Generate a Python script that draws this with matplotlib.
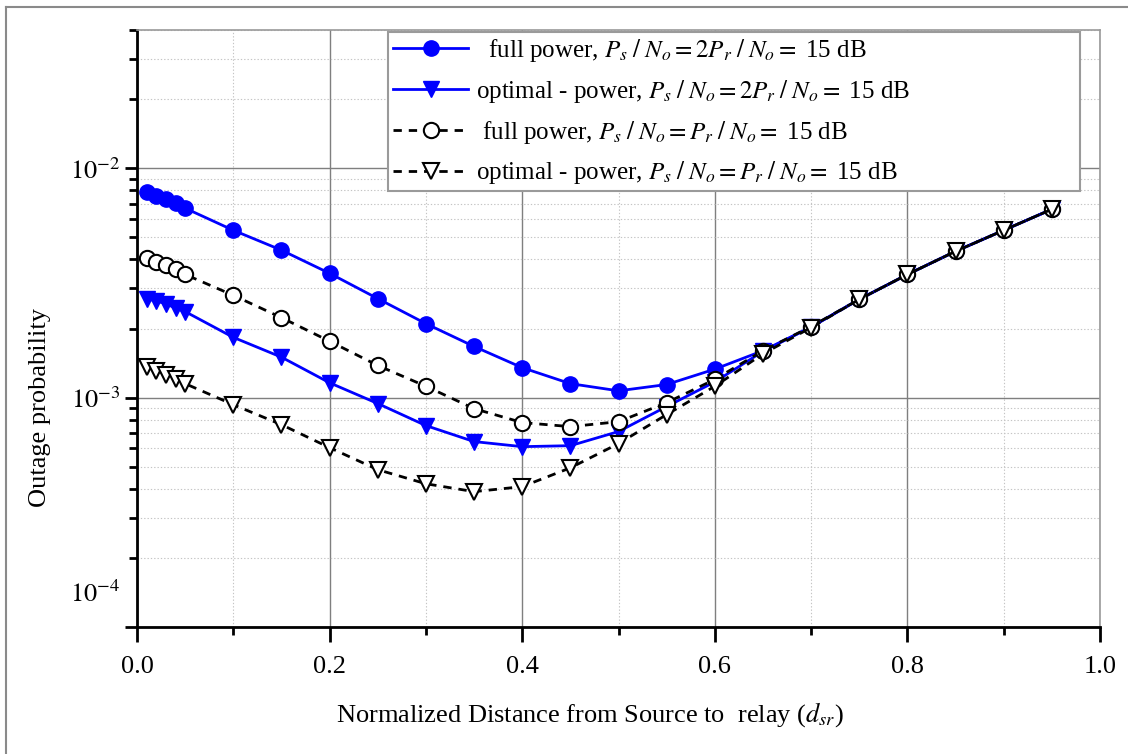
import matplotlib
matplotlib.use('Agg')

import matplotlib.pyplot as plt
import numpy as np
from matplotlib.lines import Line2D
from matplotlib.ticker import LogLocator, MultipleLocator, FixedLocator, FixedFormatter, NullFormatter

# ---------------- DATA ----------------
d_sr = [0.01, 0.02, 0.03, 0.04, 0.05, 0.10, 0.15, 0.20, 0.25, 0.30, 0.35, 0.40,
        0.45, 0.50, 0.55, 0.60, 0.65, 0.70, 0.75, 0.80, 0.85, 0.90, 0.95]

full_2x = [7.86e-3, 7.55e-3, 7.32e-3, 7.04e-3, 6.69e-3, 5.36e-3, 4.39e-3, 3.48e-3,
           2.70e-3, 2.10e-3, 1.67e-3, 1.35e-3, 1.15e-3, 1.07e-3, 1.14e-3, 1.33e-3,
           1.60e-3, 2.03e-3, 2.68e-3, 3.44e-3, 4.34e-3, 5.36e-3, 6.62e-3]

opt_2x = [2.70e-3, 2.63e-3, 2.57e-3, 2.45e-3, 2.37e-3, 1.83e-3, 1.50e-3, 1.16e-3,
          9.42e-4, 7.55e-4, 6.43e-4, 6.11e-4, 6.17e-4, 7.11e-4, 9.14e-4, 1.17e-3,
          1.59e-3, 2.03e-3, 2.68e-3, 3.44e-3, 4.34e-3, 5.36e-3, 6.62e-3]

full_eq = [4.05e-3, 3.89e-3, 3.77e-3, 3.62e-3, 3.44e-3, 2.79e-3, 2.23e-3, 1.76e-3,
           1.38e-3, 1.12e-3, 8.95e-4, 7.78e-4, 7.47e-4, 7.85e-4, 9.50e-4, 1.20e-3,
           1.60e-3, 2.04e-3, 2.68e-3, 3.44e-3, 4.34e-3, 5.36e-3, 6.62e-3]

opt_eq = [1.36e-3, 1.31e-3, 1.26e-3, 1.21e-3, 1.15e-3, 9.31e-4, 7.62e-4, 6.05e-4,
          4.85e-4, 4.21e-4, 3.89e-4, 4.09e-4, 4.94e-4, 6.30e-4, 8.43e-4, 1.12e-3,
          1.55e-3, 2.02e-3, 2.68e-3, 3.44e-3, 4.34e-3, 5.36e-3, 6.62e-3]

labels = [
    r"  full power, $P_s\;/\;N_o = 2P_r\;/\;N_o =$ 15 dB",
    r"optimal - power, $P_s\;/\;N_o = 2P_r\;/\;N_o =$ 15 dB",
    r" full power, $P_s\;/\;N_o = P_r\;/\;N_o =$ 15 dB",
    r"optimal - power, $P_s\;/\;N_o = P_r\;/\;N_o =$ 15 dB",
]

y_ticks = [1e-4, 1e-3, 1e-2]
y_ticklabels = ["", r"$10^{-3}$", r"$10^{-2}$"]

# ---------------- STYLE ----------------
plt.rcParams['font.family'] = ['Liberation Serif', 'DejaVu Serif']
plt.rcParams['mathtext.fontset'] = 'stix'

fig = plt.figure(figsize=(11.28, 7.54), dpi=100, facecolor='white')
ax = fig.add_axes([137/1128, 1 - 627/754, (1100-137)/1128, (627-30)/754])

ax.plot(d_sr, full_2x, color='#0000ff', lw=2, marker='o', ms=11,
        markerfacecolor='#0000ff', markeredgecolor='#0000ff', label=labels[0], zorder=3)
ax.plot(d_sr, opt_2x, color='#0000ff', lw=2, marker='v', ms=12,
        markerfacecolor='#0000ff', markeredgecolor='#0000ff', label=labels[1], zorder=3)
ax.plot(d_sr, full_eq, color='black', lw=2, ls=(0, (3, 2.5)), marker='o', ms=11,
        markerfacecolor='white', markeredgecolor='black', markeredgewidth=1.5,
        label=labels[2], zorder=4)
ax.plot(d_sr, opt_eq, color='black', lw=2, ls=(0, (3, 2.5)), marker='v', ms=12,
        markerfacecolor='white', markeredgecolor='black', markeredgewidth=1.5,
        label=labels[3], zorder=4)

ax.set_yscale('log')
ax.set_xlim(0, 1.0)
ax.set_ylim(1e-4, 4e-2)

ax.xaxis.set_major_locator(MultipleLocator(0.2))
ax.xaxis.set_minor_locator(MultipleLocator(0.1))
ax.xaxis.set_major_formatter(plt.FuncFormatter(lambda v, p: f"{v:.1f}"))
ax.yaxis.set_major_locator(FixedLocator(y_ticks))
ax.yaxis.set_major_formatter(FixedFormatter(y_ticklabels))
ax.yaxis.set_minor_locator(LogLocator(base=10, subs=np.arange(2, 10)))
ax.yaxis.set_minor_formatter(NullFormatter())

ax.tick_params(axis='both', which='major', direction='out', width=2, labelsize=19,
               color='black')
ax.tick_params(axis='x', which='major', length=11, pad=10)
ax.tick_params(axis='y', which='major', length=9, pad=3)
ax.tick_params(axis='both', which='minor', direction='out', width=2, length=6)

# the lowest decade label sits a bit above its tick in the original
ax.annotate(r"$10^{-4}$", xy=(0, y_ticks[0]), xycoords=('axes fraction', 'data'),
            xytext=(-12, 24), textcoords='offset points', ha='right', va='center',
            fontsize=19)

# grid
ax.grid(which='major', color='#7f7f7f', lw=1.0, ls='-')
ax.grid(which='minor', color='#c4c4c4', lw=0.8, ls=(0, (1.2, 1.8)))
ax.set_axisbelow(True)

for side in ['left', 'bottom']:
    ax.spines[side].set_linewidth(2)
    ax.spines[side].set_color('black')
for side in ['top', 'right']:
    ax.spines[side].set_linewidth(1.2)
    ax.spines[side].set_color('#9a9a9a')

ax.set_xlabel(r"Normalized Distance from Source to  relay ($d_{sr}$)", fontsize=19, labelpad=16)
ax.set_ylabel("Outage probability", fontsize=19, labelpad=14)
ax.xaxis.label.set_x(0.47)
ax.yaxis.label.set_y(0.367)

leg = ax.legend(loc='upper left', bbox_to_anchor=(0.261, 0.7235, 0.718, 0.273),
                mode='expand', fontsize=18,
                frameon=True, fancybox=False, edgecolor='#9a9a9a', framealpha=1,
                handlelength=3.0, handletextpad=0.3, borderpad=0.2,
                labelspacing=0.55, borderaxespad=0.0)
leg.get_frame().set_linewidth(1.5)

# outer frame
fig.add_artist(Line2D([6/1128, 6/1128], [0, 1 - 7/754], color='#8a8a8a', lw=1.5,
                      transform=fig.transFigure))
fig.add_artist(Line2D([6/1128, 1], [1 - 7/754, 1 - 7/754], color='#8a8a8a', lw=1.5,
                      transform=fig.transFigure))

plt.savefig("out.png", dpi=100)
plt.close()
